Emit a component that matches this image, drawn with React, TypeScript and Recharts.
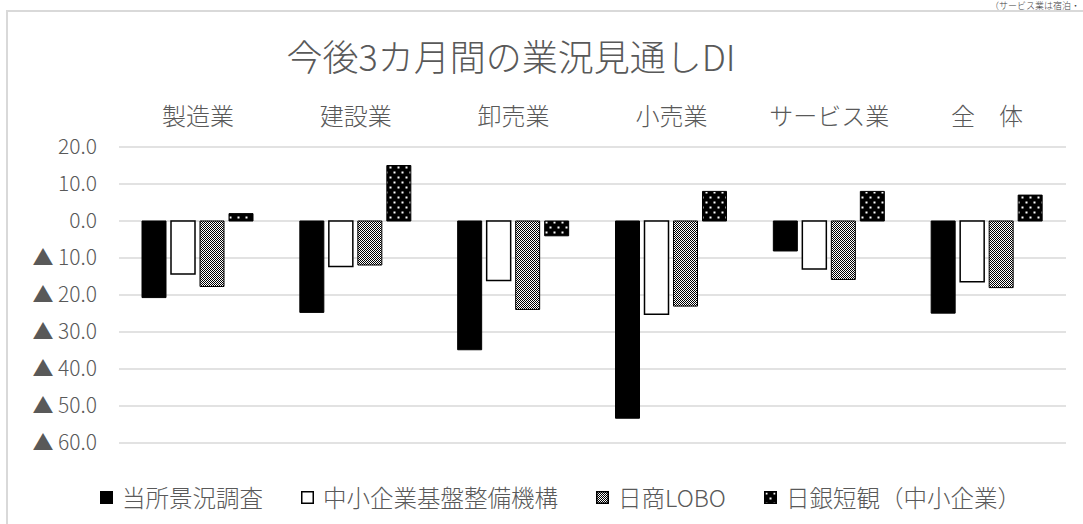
import React from 'react';
import { BarChart, Bar, XAxis, YAxis, CartesianGrid, Legend } from 'recharts';

const categories = ['製造業', '建設業', '卸売業', '小売業', 'サービス業', '全　体'];
const survey = [-20.7, -24.7, -34.8, -53.3, -8.1, -24.9];
const smrj = [-14.3, -12.3, -16.1, -25.2, -13.0, -16.4];
const lobo = [-17.7, -11.9, -23.9, -23.0, -15.8, -18.0];
const boj = [2, 15, -4, 8, 8, 7];
const yTicks = [20, 10, 0, -10, -20, -30, -40, -50, -60];

const seriesNames = ['当所景況調査', '中小企業基盤整備機構', '日商LOBO', '日銀短観（中小企業）'];
const noteText = '（サービス業は宿泊・';

const data = categories.map((c, i) => ({
  cat: c,
  survey: survey[i],
  smrj: smrj[i],
  lobo: lobo[i],
  boj: boj[i],
}));

const FONT = '"Noto Sans CJK JP", "Noto Sans", sans-serif';
const TEXT = '#595959';
const WEIGHT = 300;

const fmt = (v: number) => (v < 0 ? `▲ ${Math.abs(v).toFixed(1)}` : v.toFixed(1));

const Swatch = ({ kind }: { kind: number }) => {
  const fills = ['#000', '#fff', 'url(#checker)', 'url(#dots)'];
  return (
    <svg width={13} height={13} style={{ display: 'block' }}>
      <rect x={0.75} y={0.75} width={11.5} height={11.5} fill={fills[kind]} stroke="#000" strokeWidth={1.5} />
    </svg>
  );
};

const LegendContent = () => (
  <div style={{ display: 'flex', alignItems: 'center', paddingLeft: 100, fontFamily: FONT, fontWeight: WEIGHT, fontSize: 23.5, color: TEXT, whiteSpace: 'nowrap' }}>
    {seriesNames.map((n, i) => (
      <div key={n} style={{ display: 'flex', alignItems: 'center', marginRight: 38 }}>
        <Swatch kind={i} />
        <span style={{ marginLeft: 9, lineHeight: '28px' }}>{n}</span>
      </div>
    ))}
  </div>
);

export default function App() {
  return (
    <div style={{ position: 'absolute', left: 0, top: 0, width: 1083, height: 524, overflow: 'hidden', background: '#fff', fontFamily: FONT, fontWeight: WEIGHT }}>
      <div style={{ position: 'absolute', left: 6, top: 10, width: 1100, height: 600, borderTop: '2px solid #d9d9d9', borderLeft: '2px solid #d9d9d9' }} />
      <div style={{ position: 'absolute', right: 3, top: 1, fontSize: 9, lineHeight: '9px', color: '#404040', whiteSpace: 'nowrap' }}>{noteText}</div>
      <div style={{ position: 'absolute', left: 0, width: 1022, top: 30, textAlign: 'center', fontSize: 36, color: TEXT, lineHeight: '50px' }}>今後3カ月間の業況見通しDI</div>
      <div style={{ position: 'absolute', left: 0, top: 0 }}>
        <BarChart
          width={1083}
          height={524}
          data={data}
          margin={{ top: 90, right: 17, bottom: 81, left: 0 }}
          barCategoryGap={23}
          barGap={5}
        >
          <defs>
            <pattern id="checker" width={2} height={2} patternUnits="userSpaceOnUse">
              <rect x={0} y={0} width={2} height={2} fill="#fff" />
              <rect x={0} y={0} width={1} height={1} fill="#000" />
              <rect x={1} y={1} width={1} height={1} fill="#000" />
            </pattern>
            <pattern id="dots" width={8} height={10} patternUnits="userSpaceOnUse">
              <rect x={0} y={0} width={8} height={10} fill="#000" />
              <rect x={1.5} y={1.5} width={2} height={2} fill="#fff" />
              <rect x={5.5} y={6.5} width={2} height={2} fill="#fff" />
            </pattern>
          </defs>
          <CartesianGrid horizontal vertical={false} stroke="#d9d9d9" strokeWidth={1.5} />
          <XAxis
            dataKey="cat"
            orientation="top"
            height={57}
            axisLine={false}
            tickLine={false}
            tickSize={0}
            tickMargin={22}
            interval={0}
            tick={{ fill: TEXT, fontSize: 24, fontFamily: FONT, fontWeight: WEIGHT }}
          />
          <YAxis
            width={119}
            domain={[-60, 20]}
            ticks={yTicks}
            interval={0}
            axisLine={false}
            tickLine={false}
            tickSize={0}
            tickMargin={22}
            tickFormatter={fmt}
            tick={{ fill: TEXT, fontSize: 21, fontFamily: FONT, fontWeight: WEIGHT }}
          />
          <Legend
            layout="horizontal"
            verticalAlign="middle"
            align="center"
            wrapperStyle={{ top: 483, left: 0, width: 1083, height: 28 }}
            content={() => <LegendContent />}
          />
          <Bar dataKey="survey" name={seriesNames[0]} fill="#000" stroke="#000" strokeWidth={1} isAnimationActive={false} />
          <Bar dataKey="smrj" name={seriesNames[1]} fill="#fff" stroke="#000" strokeWidth={1.5} isAnimationActive={false} />
          <Bar dataKey="lobo" name={seriesNames[2]} fill="url(#checker)" stroke="#000" strokeWidth={1} isAnimationActive={false} />
          <Bar dataKey="boj" name={seriesNames[3]} fill="url(#dots)" stroke="#000" strokeWidth={1} isAnimationActive={false} />
        </BarChart>
      </div>
    </div>
  );
}
